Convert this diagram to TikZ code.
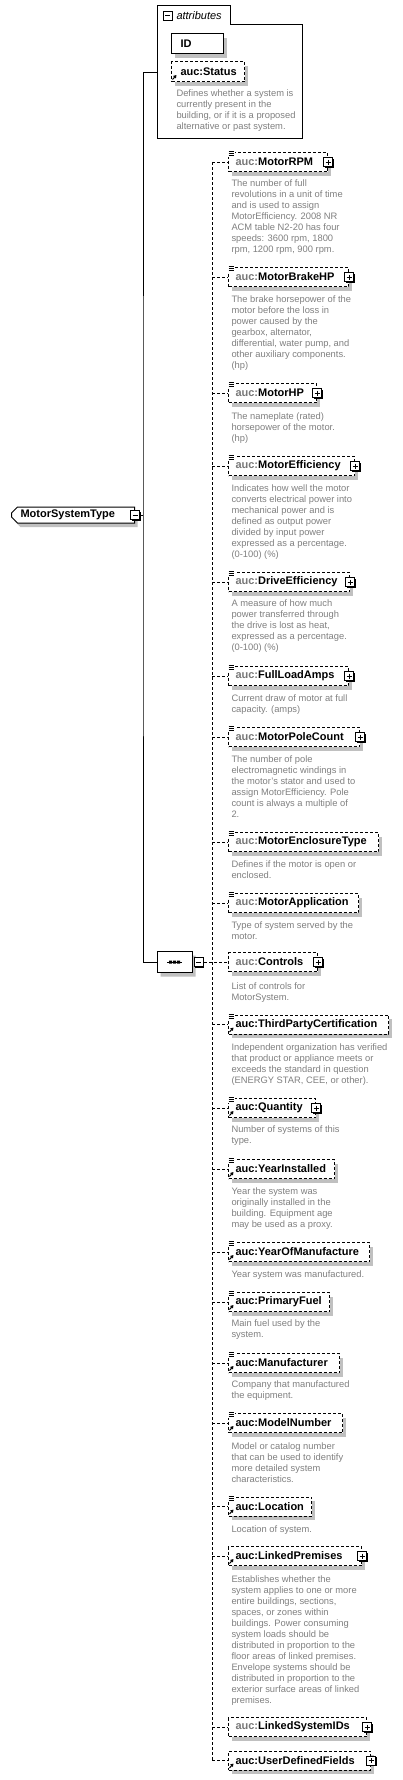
\documentclass[tikz,border=0pt]{standalone}
\usepackage{fontspec}
\setmainfont{Liberation Sans}
\usetikzlibrary{shapes.misc,shadows,arrows.meta}
\definecolor{docgray}{RGB}{128,128,128}
\definecolor{pfxgray}{RGB}{120,120,120}
\definecolor{shadowgray}{RGB}{192,192,192}
\newcommand{\pfx}{\textcolor{pfxgray}{auc:}}
\lefthyphenmin=62
\begin{document}
\begin{tikzpicture}[x=1pt, y=-1pt, line width=1pt,
    boxshadow/.style={drop shadow={shadow xshift=3pt, shadow yshift=-4pt, fill=shadowgray, opacity=1}},
    elem/.style={draw, dash pattern=on 3pt off 2pt, fill=white, boxshadow, anchor=west, minimum height=19pt, inner xsep=7pt, inner ysep=0pt, align=left, font=\bfseries\fontsize{11}{13}\selectfont},
    desc/.style={anchor=north west, inner sep=0pt, align=left, text=docgray, font=\fontsize{9.35}{11}\selectfont},
    tree/.style={line width=1pt},
    link/.style={line width=1pt, dash pattern=on 3pt off 2pt},
    plusicon/.pic={
        \fill[black] (-3.5,-3.5) rectangle (5.5,5.5);
        \draw[solid, fill=white] (-4.5,-4.5) rectangle (4.5,4.5);
        \draw[solid] (-2.5,0) -- (2.5,0) (0,-2.5) -- (0,2.5);
    },
    minusicon/.pic={
        \fill[black] (-3.5,-3.5) rectangle (5.5,5.5);
        \draw[solid, fill=white] (-4.5,-4.5) rectangle (4.5,4.5);
        \draw[solid] (-2.5,0) -- (2.5,0);
    },
    docicon/.pic={
        \fill[white] (0,-1.5) rectangle (6.5,4.5);
        \draw[solid, line width=0.8pt] (0.5,-0.5) -- (6,-0.5) (0.5,1.5) -- (6,1.5) (0.5,3.5) -- (6,3.5);
    },
    reficon/.pic={
        \draw[solid, -{Triangle[length=3pt,width=3.5pt]}] (1.5,-2.5) -- (5.5,-7);
    }
]
    \path[use as bounding box, fill=white] (0,0) rectangle (402,1780);

    % attributes group
    \draw[fill=white] (157,5) -- (230,5) -- (230,24) -- (302,24) -- (302,138) -- (157,138) -- cycle;
    \coordinate (attr) at (157,72);
    \pic at (167.5,15.5) {minusicon};
    \node[anchor=west, inner sep=0pt, font=\itshape\fontsize{11}{13}\selectfont] (attrlabel) at (176,15.5) {attributes};
    \node[draw, fill=white, boxshadow, anchor=north west, minimum width=52pt, minimum height=20pt, text width=34pt, inner xsep=9pt, inner ysep=0pt, align=left, font=\bfseries\fontsize{11}{13}\selectfont] (id) at (171,33) {ID};
    \node[elem, anchor=north west, minimum height=20pt, text width=55pt, inner xsep=9pt] (status) at (171,61) {auc:Status};
    \pic at (status.south west) {reficon};
    \node[desc] (statusdoc) at (176,89.5) {Defines whether a system is\\currently present in the\\building, or if it is a proposed\\alternative or past system.};

    % root type
    \node[draw, fill=white, boxshadow, chamfered rectangle, chamfered rectangle corners={north west,south west}, chamfered rectangle xsep=3pt, chamfered rectangle ysep=3pt, minimum width=117pt, minimum height=16pt, text width=105pt, inner xsep=6pt, inner ysep=0pt, anchor=west, align=left, font=\bfseries\fontsize{11}{13}\selectfont] (root) at (11,515) {MotorSystemType};
    \pic at (root.east) {minusicon};
    \coordinate (fork) at (143,515);

    % sequence
    \node[draw, fill=white, boxshadow, chamfered rectangle, chamfered rectangle xsep=5pt, chamfered rectangle ysep=5pt, minimum width=35pt, minimum height=21pt, inner sep=0pt, anchor=west] (seq) at (157,962) {};
    \draw (167,962) -- (182,962);
    \fill (169,960.5) rectangle ++(3,3) (173,960.5) rectangle ++(3,3) (177,960.5) rectangle ++(3,3);
    \pic at ([xshift=5.5pt]seq.east) {minusicon};
    \coordinate (bus) at (212,962);

    % children
    \node[elem, text width=85pt] (rpm) at (228,162) {\pfx MotorRPM};
    \pic at (rpm.north west) {docicon};
    \pic at (rpm.east) {plusicon};
    \node[desc] (rpmdoc) at (231,179.3) {The number of full\\revolutions in a unit of time\\and is used to assign\\MotorEfficiency. 2008 NR\\ACM table N2-20 has four\\speeds: 3600 rpm, 1800\\rpm, 1200 rpm, 900 rpm.};

    \node[elem, text width=106pt] (brakehp) at (228,277) {\pfx MotorBrakeHP};
    \pic at (brakehp.north west) {docicon};
    \pic at (brakehp.east) {plusicon};
    \node[desc] (brakehpdoc) at (231,295) {The brake horsepower of the\\motor before the loss in\\power caused by the\\gearbox, alternator,\\differential, water pump, and\\other auxiliary components.\\(hp)};

    \node[elem, text width=74pt] (hp) at (228,393) {\pfx MotorHP};
    \pic at (hp.north west) {docicon};
    \pic at (hp.east) {plusicon};
    \node[desc] (hpdoc) at (231,412) {The nameplate (rated)\\horsepower of the motor.\\(hp)};

    \node[elem, text width=112pt] (eff) at (228,466) {\pfx MotorEfficiency};
    \pic at (eff.north west) {docicon};
    \pic at (eff.east) {plusicon};
    \node[desc] (effdoc) at (231,484) {Indicates how well the motor\\converts electrical power into\\mechanical power and is\\defined as output power\\divided by input power\\expressed as a percentage.\\(0-100) (\%)};

    \node[elem, text width=107pt] (drive) at (228,582) {\pfx DriveEfficiency};
    \pic at (drive.north west) {docicon};
    \pic at (drive.east) {plusicon};
    \node[desc] (drivedoc) at (231,599) {A measure of how much\\power transferred through\\the drive is lost as heat,\\expressed as a percentage.\\(0-100) (\%)};

    \node[elem, text width=106pt] (amps) at (228,676) {\pfx FullLoadAmps};
    \pic at (amps.north west) {docicon};
    \pic at (amps.east) {plusicon};
    \node[desc] (ampsdoc) at (231,694) {Current draw of motor at full\\capacity. (amps)};

    \node[elem, text width=117pt] (poles) at (228,737) {\pfx MotorPoleCount};
    \pic at (poles.north west) {docicon};
    \pic at (poles.east) {plusicon};
    \node[desc] (polesdoc) at (231,755) {The number of pole\\electromagnetic windings in\\the motor's stator and used to\\assign MotorEfficiency. Pole\\count is always a multiple of\\2.};

    \node[elem, text width=136pt] (encl) at (228,842) {\pfx MotorEnclosureType};
    \pic at (encl.north west) {docicon};
    \node[desc] (encldoc) at (231,860) {Defines if the motor is open or\\enclosed.};

    \node[elem, text width=116pt] (appl) at (228,903) {\pfx MotorApplication};
    \pic at (appl.north west) {docicon};
    \node[desc] (appldoc) at (231,921) {Type of system served by the\\motor.};

    \node[elem, text width=75pt] (ctrl) at (228,962) {\pfx Controls};
    \pic at (ctrl.east) {plusicon};
    \node[desc] (ctrldoc) at (231,982) {List of controls for\\MotorSystem.};

    \node[elem, text width=146pt] (cert) at (228,1024.5) {auc:ThirdPartyCertification};
    \pic at (cert.north west) {docicon};
    \pic at (cert.south west) {reficon};
    \node[desc] (certdoc) at (231,1043) {Independent organization has verified\\that product or appliance meets or\\exceeds the standard in question\\(ENERGY STAR, CEE, or other).};

    \node[elem, text width=73pt] (qty) at (228,1108) {auc:Quantity};
    \pic at (qty.north west) {docicon};
    \pic at (qty.south west) {reficon};
    \pic at (qty.east) {plusicon};
    \node[desc] (qtydoc) at (231,1125) {Number of systems of this\\type.};

    \node[elem, text width=92pt] (yinst) at (228,1169) {auc:YearInstalled};
    \pic at (yinst.north west) {docicon};
    \pic at (yinst.south west) {reficon};
    \node[desc] (yinstdoc) at (231,1187) {Year the system was\\originally installed in the\\building. Equipment age\\may be used as a proxy.};

    \node[elem, text width=127pt] (ymfg) at (228,1252) {auc:YearOfManufacture};
    \pic at (ymfg.north west) {docicon};
    \pic at (ymfg.south west) {reficon};
    \node[desc] (ymfgdoc) at (231,1270) {Year system was manufactured.};

    \node[elem, text width=87pt] (fuel) at (228,1302) {auc:PrimaryFuel};
    \pic at (fuel.north west) {docicon};
    \pic at (fuel.south west) {reficon};
    \node[desc] (fueldoc) at (231,1319) {Main fuel used by the\\system.};

    \node[elem, text width=97pt] (mfr) at (228,1363) {auc:Manufacturer};
    \pic at (mfr.north west) {docicon};
    \pic at (mfr.south west) {reficon};
    \node[desc] (mfrdoc) at (231,1380) {Company that manufactured\\the equipment.};

    \node[elem, text width=100pt] (model) at (228,1423) {auc:ModelNumber};
    \pic at (model.north west) {docicon};
    \pic at (model.south west) {reficon};
    \node[desc] (modeldoc) at (231,1442) {Model or catalog number\\that can be used to identify\\more detailed system\\characteristics.};

    \node[elem, text width=69pt] (loc) at (228,1506.5) {auc:Location};
    \pic at (loc.north west) {docicon};
    \pic at (loc.south west) {reficon};
    \node[desc] (locdoc) at (231,1525) {Location of system.};

    \node[elem, text width=119pt] (prem) at (228,1556) {auc:LinkedPremises};
    \pic at (prem.south west) {reficon};
    \pic at (prem.east) {plusicon};
    \node[desc] (premdoc) at (231,1575) {Establishes whether the\\system applies to one or more\\entire buildings, sections,\\spaces, or zones within\\buildings. Power consuming\\system loads should be\\distributed in proportion to the\\floor areas of linked premises.\\Envelope systems should be\\distributed in proportion to the\\exterior surface areas of linked\\premises.};

    \node[elem, text width=124pt] (sysids) at (228,1727) {\pfx LinkedSystemIDs};
    \pic at (sysids.east) {plusicon};

    \node[elem, text width=128pt] (udf) at (228,1760.5) {auc:UserDefinedFields};
    \pic at (udf.south west) {reficon};
    \pic at (udf.east) {plusicon};

    % connectors
    \draw[tree] ([xshift=4.5pt]root.east) -- (fork);
    \draw[tree] (attr) -| (fork) |- (seq.west);
    \draw[link] ([xshift=11pt]seq.east) -- (ctrl.west);
    \draw[link] (bus |- rpm.west) -- (bus |- udf.west);
    \draw[link] (bus |- rpm.west) -- (rpm.west)
        (bus |- brakehp.west) -- (brakehp.west)
        (bus |- hp.west) -- (hp.west)
        (bus |- eff.west) -- (eff.west)
        (bus |- drive.west) -- (drive.west)
        (bus |- amps.west) -- (amps.west)
        (bus |- poles.west) -- (poles.west)
        (bus |- encl.west) -- (encl.west)
        (bus |- appl.west) -- (appl.west)
        (bus |- cert.west) -- (cert.west)
        (bus |- qty.west) -- (qty.west)
        (bus |- yinst.west) -- (yinst.west)
        (bus |- ymfg.west) -- (ymfg.west)
        (bus |- fuel.west) -- (fuel.west)
        (bus |- mfr.west) -- (mfr.west)
        (bus |- model.west) -- (model.west)
        (bus |- loc.west) -- (loc.west)
        (bus |- prem.west) -- (prem.west)
        (bus |- sysids.west) -- (sysids.west)
        (bus |- udf.west) -- (udf.west);
\end{tikzpicture}
\end{document}
